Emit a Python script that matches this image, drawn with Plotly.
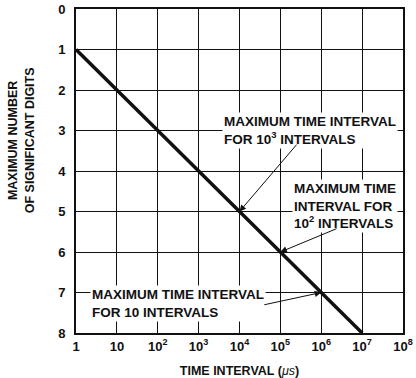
import plotly.graph_objects as go

# Data
time_interval_us = [1, 1e7]
max_digits = [1, 8]
x_tick_vals = [1, 10, 1e2, 1e3, 1e4, 1e5, 1e6, 1e7, 1e8]
x_tick_text = ["1", "10", "10<sup>2</sup>", "10<sup>3</sup>", "10<sup>4</sup>",
               "10<sup>5</sup>", "10<sup>6</sup>", "10<sup>7</sup>", "10<sup>8</sup>"]
y_tick_vals = [0, 1, 2, 3, 4, 5, 6, 7, 8]

FONT = "Liberation Sans, Arial, sans-serif"
INK = "#111111"

fig = go.Figure()
fig.add_trace(go.Scatter(x=time_interval_us, y=max_digits, mode="lines",
                         line=dict(color=INK, width=3.5), hoverinfo="skip",
                         showlegend=False))

ann_font = dict(family=FONT, size=13.5, color=INK)
annotations = [
    # texts
    dict(x=3.58, y=2.99, xref="x", yref="y", xanchor="left", yanchor="middle",
         text="<b>MAXIMUM TIME INTERVAL<br>FOR 10<sup>3</sup> INTERVALS</b>", align="left",
         showarrow=False, bgcolor="white", font=ann_font, borderpad=1),
    dict(x=5.28, y=4.86, xref="x", yref="y", xanchor="left", yanchor="middle",
         text="<b>MAXIMUM TIME<br>INTERVAL FOR<br>10<sup>2</sup> INTERVALS</b>", align="left",
         showarrow=False, bgcolor="white", font=ann_font, borderpad=1),
    dict(x=0.34, y=7.26, xref="x", yref="y", xanchor="left", yanchor="middle",
         text="<b>MAXIMUM TIME INTERVAL<br>FOR 10 INTERVALS</b>", align="left",
         showarrow=False, bgcolor="white", font=ann_font, borderpad=1),
    # arrows
    dict(x=4, y=5, xref="x", yref="y", ax=5.43, ay=3.31, axref="x", ayref="y",
         text="", showarrow=True, arrowhead=2, arrowsize=1.3, arrowwidth=1, arrowcolor=INK),
    dict(x=5, y=6, xref="x", yref="y", ax=6.41, ay=5.41, axref="x", ayref="y",
         text="", showarrow=True, arrowhead=2, arrowsize=1.3, arrowwidth=1, arrowcolor=INK),
    dict(x=6, y=7, xref="x", yref="y", ax=4.57, ay=7.31, axref="x", ayref="y",
         text="", showarrow=True, arrowhead=2, arrowsize=1.3, arrowwidth=1, arrowcolor=INK),
    # y title
    dict(x=-0.167, y=0.596, xref="paper", yref="paper", xanchor="center", yanchor="middle",
         text="<b>MAXIMUM NUMBER<br>OF SIGNIFICANT DIGITS</b>", textangle=-90,
         showarrow=False, font=dict(family=FONT, size=12.5, color=INK)),
]

fig.update_layout(
    width=416, height=378,
    margin=dict(l=76, r=13, t=9, b=45),
    paper_bgcolor="white", plot_bgcolor="white",
    font=dict(family=FONT, color=INK),
    annotations=annotations,
    xaxis=dict(type="log", range=[0, 8], tickvals=x_tick_vals,
               ticktext=[f"<b>{t}</b>" for t in x_tick_text],
               showgrid=True, gridcolor=INK, gridwidth=1,
               showline=True, linecolor=INK, linewidth=2, mirror=True,
               ticks="", tickfont=dict(family=FONT, size=13, color=INK),
               ticklabeloverflow="allow",
               title=dict(text="<b>TIME INTERVAL (</b><i>μs</i><b>)</b>",
                          font=dict(family=FONT, size=12.5, color=INK), standoff=17),
               zeroline=False, automargin=False),
    yaxis=dict(range=[8, 0], tickvals=y_tick_vals,
               ticktext=[f"<b>{v}</b>" for v in y_tick_vals],
               showgrid=True, gridcolor=INK, gridwidth=1,
               showline=True, linecolor=INK, linewidth=2, mirror=True,
               ticks="", ticklabelstandoff=6, ticklabeloverflow="allow",
               tickfont=dict(family=FONT, size=13, color=INK), zeroline=False,
               automargin=False),
)

fig.write_html("out.html", config={"displayModeBar": False},
               post_script="document.body.style.margin='0';document.body.style.overflow='hidden';")
